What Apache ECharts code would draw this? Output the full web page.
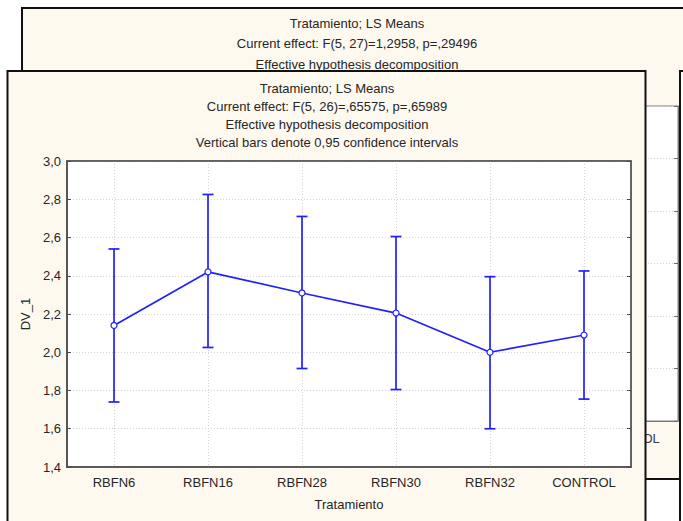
<!DOCTYPE html>
<html>
<head>
<meta charset="utf-8">
<script src="https://cdn.jsdelivr.net/npm/echarts@6/dist/echarts.min.js"></script>
<style>
  html, body { margin: 0; padding: 0; background: #ffffff; }
  #chart { width: 683px; height: 521px; }
</style>
</head>
<body>
<div id="chart"></div>
<script>
// Treatment groups and their least-squares means with 95% confidence limits
const categories = ['RBFN6', 'RBFN16', 'RBFN28', 'RBFN30', 'RBFN32', 'CONTROL'];
const lsMeans   = [2.14, 2.42, 2.31, 2.205, 2.0, 2.09];
const ciLower   = [1.74, 2.025, 1.915, 1.805, 1.6, 1.755];
const ciUpper   = [2.54, 2.825, 2.71, 2.605, 2.395, 2.425];

// Value axis range and tick step
const yMin = 1.4;
const yMax = 3.0;
const yStep = 0.2;

// Header lines of the two result windows
const frontTitle = [
  'Tratamiento; LS Means',
  'Current effect: F(5, 26)=,65575, p=,65989',
  'Effective hypothesis decomposition',
  'Vertical bars denote 0,95 confidence intervals'
];
const backTitle = [
  'Tratamiento; LS Means',
  'Current effect: F(5, 27)=1,2958, p=,29496',
  'Effective hypothesis decomposition'
];
const xAxisTitle = 'Tratamiento';
const yAxisTitle = 'DV_1';

const FONT = '"Liberation Sans", Arial, sans-serif';
const TEXT = '#262626';
const BLUE = '#2020ff';
const PAPER = '#fef9ee';

const chart = echarts.init(document.getElementById('chart'), null, { renderer: 'svg' });

const commaFmt = v => v.toFixed(1).replace('.', ',');

function titleTexts(lines, cx, y0, gap, z) {
  return lines.map((t, i) => ({
    type: 'text',
    z: z,
    silent: true,
    style: {
      text: t,
      x: cx,
      y: y0 + i * gap,
      textAlign: 'center',
      textVerticalAlign: 'middle',
      font: '13px ' + FONT,
      fill: TEXT
    }
  }));
}

const graphics = [
  // window behind: paper and frame
  { type: 'rect', z: -30, silent: true,
    shape: { x: 22, y: 8, width: 720, height: 471 },
    style: { fill: PAPER, stroke: '#111', lineWidth: 2 } },
  ...titleTexts(backTitle, 357, 23, 20.5, -25),
  // window at the far right edge
  { type: 'rect', z: -8, silent: true,
    shape: { x: 680, y: 71, width: 60, height: 470 },
    style: { fill: '#ffffff', stroke: '#111', lineWidth: 2 } },
  // front window paper and frame
  { type: 'rect', z: -10, silent: true,
    shape: { x: 7.5, y: 71, width: 638, height: 470 },
    style: { fill: PAPER, stroke: '#111', lineWidth: 2 } },
  ...titleTexts(frontTitle, 327, 88.5, 18, -5)
];

const option = {
  animation: false,
  backgroundColor: '#ffffff',
  textStyle: { fontFamily: FONT },
  graphic: { elements: graphics },
  grid: [
    { // front plot
      left: 67, top: 161, right: 52, bottom: 54,
      show: true, backgroundColor: '#ffffff', borderColor: '#5a5a5a', borderWidth: 1.5
    },
    { // plot of the window behind
      left: 78, top: 106, width: 600, height: 315, z: -20,
      show: true, backgroundColor: '#ffffff', borderColor: '#7a7a7a', borderWidth: 1
    }
  ],
  xAxis: [
    {
      type: 'category', gridIndex: 0, data: categories, boundaryGap: true, position: 'bottom',
      name: xAxisTitle, nameLocation: 'middle', nameGap: 31,
      nameTextStyle: { fontSize: 13, color: TEXT, fontFamily: FONT },
      axisLine: { lineStyle: { color: '#4a4a4a', width: 1.5 } },
      axisTick: { inside: true, alignWithLabel: true, length: 4, lineStyle: { color: '#4a4a4a' } },
      axisLabel: { margin: 9, fontSize: 13, color: TEXT, fontFamily: FONT },
      splitLine: { show: true, alignWithLabel: true, lineStyle: { type: [1, 2], color: '#d2d2d2', width: 1 } }
    },
    {
      type: 'category', gridIndex: 0, data: categories, boundaryGap: true, position: 'top',
      axisLine: { lineStyle: { color: '#5a5a5a', width: 1.5 } },
      axisTick: { inside: true, alignWithLabel: true, length: 4, lineStyle: { color: '#4a4a4a' } },
      axisLabel: { show: false },
      splitLine: { show: false }
    },
    {
      type: 'category', gridIndex: 1, data: categories, boundaryGap: true, position: 'bottom', z: -20,
      axisLine: { lineStyle: { color: '#7a7a7a', width: 1 } },
      axisTick: { show: false },
      axisLabel: { margin: 11, fontSize: 13, color: '#3a3a50', fontFamily: FONT },
      splitLine: { show: false }
    }
  ],
  yAxis: [
    {
      type: 'value', gridIndex: 0, min: yMin, max: yMax, interval: yStep, position: 'left',
      name: yAxisTitle, nameLocation: 'middle', nameGap: 33, nameRotate: 90,
      nameTextStyle: { fontSize: 13, color: TEXT, fontFamily: FONT },
      axisLine: { show: true, lineStyle: { color: '#4a4a4a', width: 1.5 } },
      axisTick: { show: true, inside: true, length: 4, lineStyle: { color: '#4a4a4a' } },
      axisLabel: { margin: 6, fontSize: 13, color: TEXT, fontFamily: FONT, formatter: commaFmt },
      splitLine: { show: true, lineStyle: { type: [1, 2], color: '#d2d2d2', width: 1 } }
    },
    {
      type: 'value', gridIndex: 0, min: yMin, max: yMax, interval: yStep, position: 'right',
      axisLine: { show: true, lineStyle: { color: '#5a5a5a', width: 1.5 } },
      axisTick: { show: true, inside: true, length: 4, lineStyle: { color: '#4a4a4a' } },
      axisLabel: { show: false },
      splitLine: { show: false }
    },
    {
      type: 'value', gridIndex: 1, min: 0, max: 6, interval: 1, position: 'right', z: -20,
      axisLine: { show: true, lineStyle: { color: '#7a7a7a', width: 1 } },
      axisTick: { show: true, inside: true, length: 4, lineStyle: { color: '#6a6a6a' } },
      axisLabel: { show: false },
      splitLine: { show: true, lineStyle: { type: [1, 2], color: '#d2d2d2', width: 1 } }
    }
  ],
  series: [
    {
      type: 'custom',
      name: 'CI',
      xAxisIndex: 0, yAxisIndex: 0,
      z: 3,
      data: categories.map((c, i) => [i, ciLower[i], ciUpper[i]]),
      renderItem: function (params, api) {
        const lo = api.coord([api.value(0), api.value(1)]);
        const hi = api.coord([api.value(0), api.value(2)]);
        const half = 5.5;
        const style = { stroke: BLUE, lineWidth: 1.7, fill: null };
        return {
          type: 'group',
          children: [
            { type: 'line', shape: { x1: lo[0], y1: lo[1], x2: hi[0], y2: hi[1] }, style: style },
            { type: 'line', shape: { x1: lo[0] - half, y1: lo[1], x2: lo[0] + half, y2: lo[1] }, style: style },
            { type: 'line', shape: { x1: hi[0] - half, y1: hi[1], x2: hi[0] + half, y2: hi[1] }, style: style }
          ]
        };
      }
    },
    {
      type: 'line',
      name: 'LS Means',
      xAxisIndex: 0, yAxisIndex: 0,
      z: 4,
      data: lsMeans,
      symbol: 'circle',
      symbolSize: 6,
      lineStyle: { color: BLUE, width: 1.7 },
      itemStyle: { color: '#ffffff', borderColor: BLUE, borderWidth: 1.2 }
    }
  ]
};

chart.setOption(option);
</script>
</body>
</html>
